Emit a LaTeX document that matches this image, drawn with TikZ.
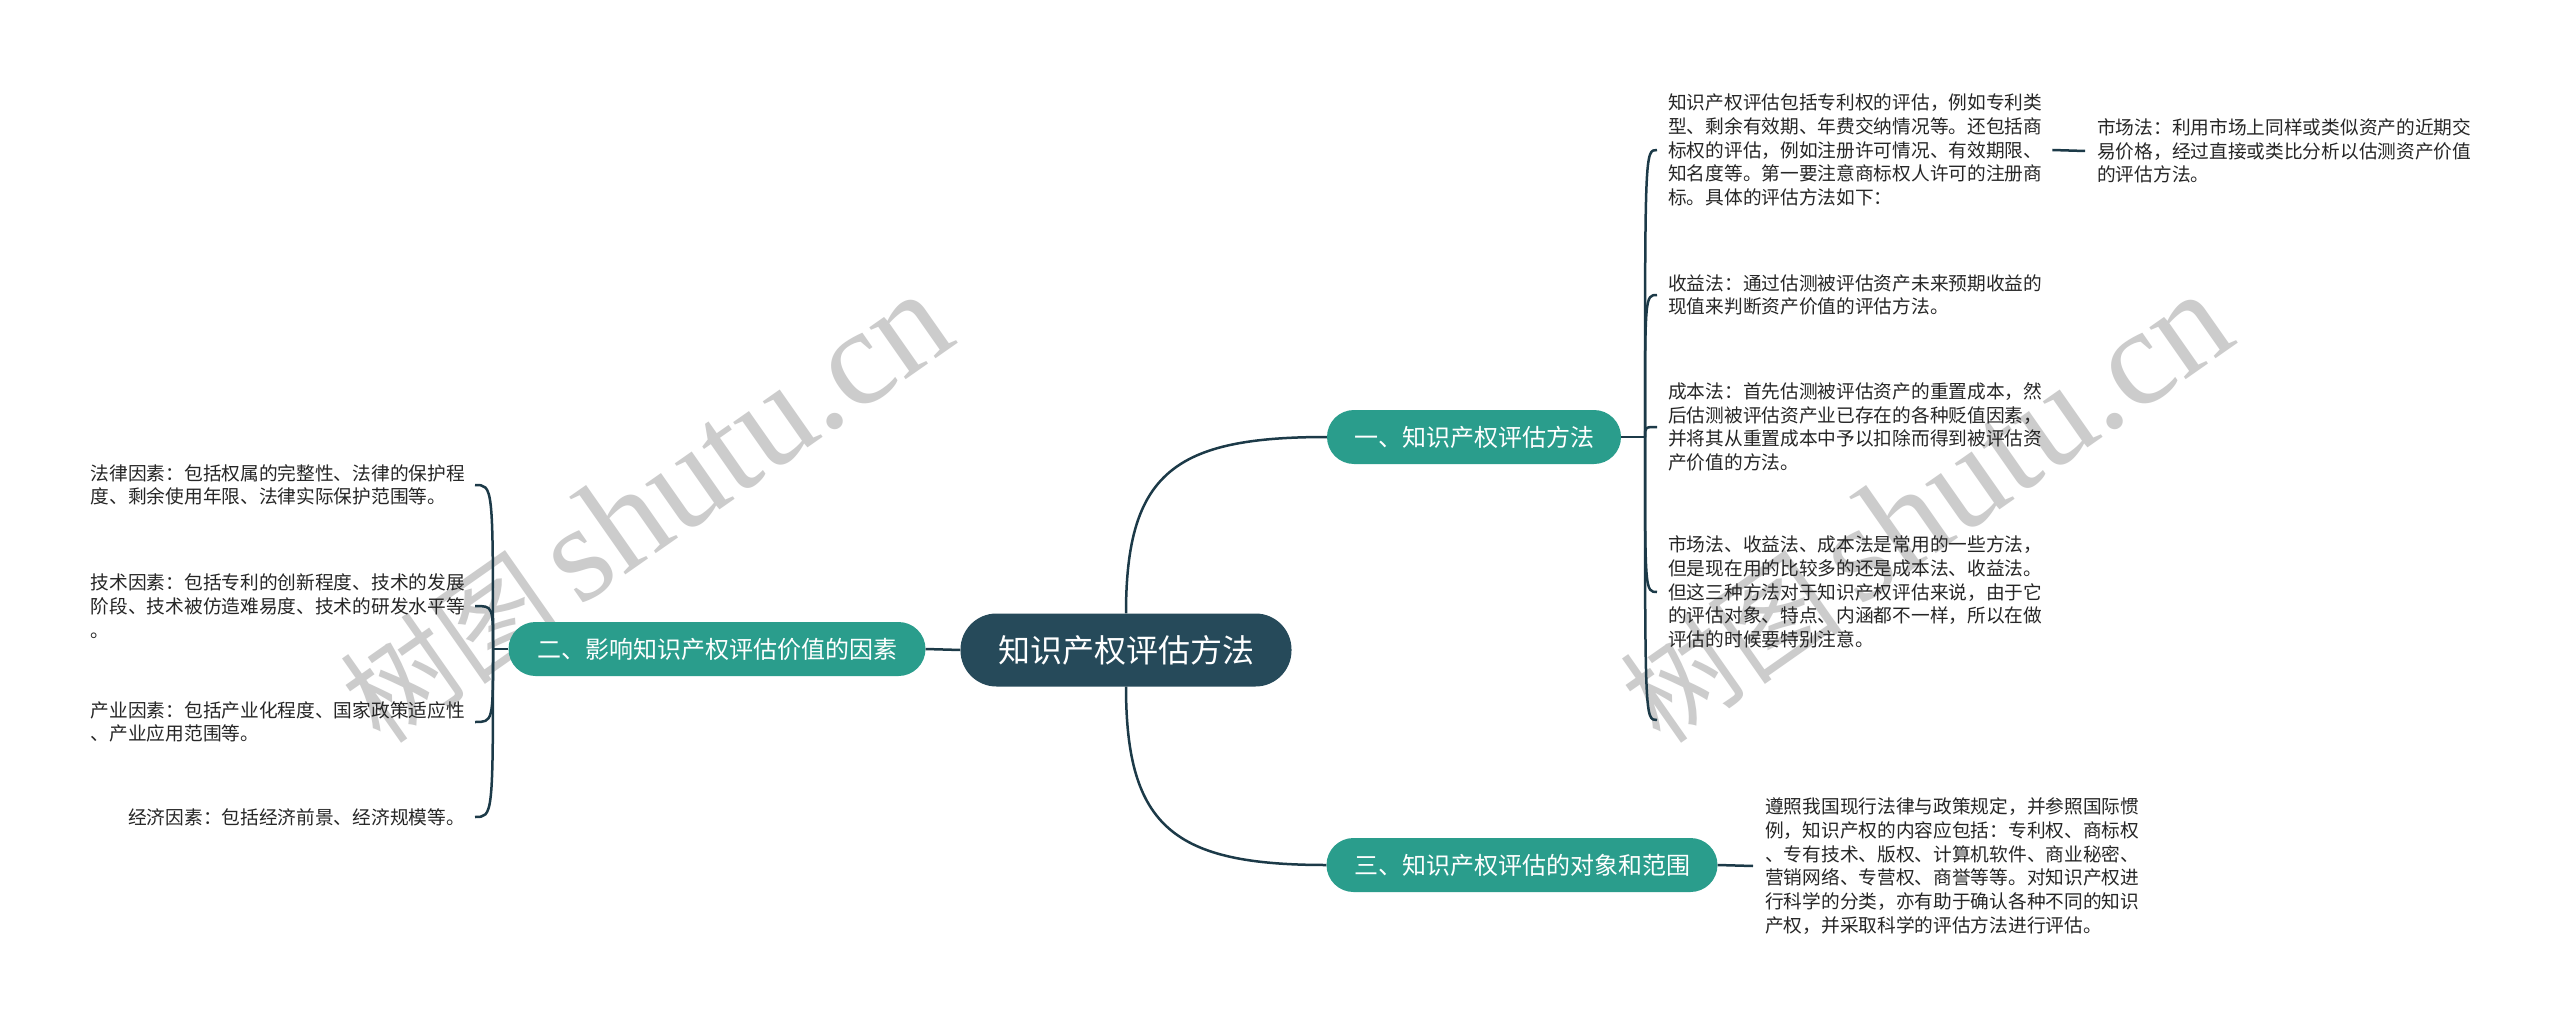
\documentclass[tikz,border=0pt]{standalone}
\usepackage{fontspec}
\setmainfont{Noto Sans CJK SC}
\newfontfamily\wmlatin{Liberation Serif}
\usetikzlibrary{calc}
\definecolor{topicfill}{HTML}{2A9D8C}
\definecolor{rootfill}{HTML}{264A5A}
\definecolor{linec}{HTML}{1C3A48}
\definecolor{wmgray}{HTML}{CCCCCC}
\tikzset{
  leaf/.style={inner sep=0pt, align=left, text=black!85, font=\fontsize{18.7}{23.7}\selectfont},
  topic/.style={fill=topicfill, text=white, rounded corners=27pt, minimum height=54pt, inner sep=0pt, font=\fontsize{24}{28}\selectfont},
  rootnode/.style={fill=rootfill, text=white, rounded corners=36pt, minimum height=73pt, minimum width=331pt, inner sep=0pt, font=\fontsize{32}{38}\selectfont},
  conn/.style={draw=linec, line width=2.5pt},
  wmark/.style={text=wmgray, inner sep=0pt, rotate=35, anchor=base west}
}
\begin{document}
\begin{tikzpicture}[x=1pt,y=-1pt]
\fill[white] (0,0) rectangle (2560,1027);
\useasboundingbox (0,0) rectangle (2560,1027);
% watermarks
\node[wmark] (wm1) at (381,747) {\fontsize{112}{120}\selectfont 树图\,{\wmlatin\fontsize{138}{140}\selectfont shutu.cn}};
\node[wmark] (wm2) at (1661,747) {\fontsize{112}{120}\selectfont 树图\,{\wmlatin\fontsize{138}{140}\selectfont shutu.cn}};
% main nodes
\node[rootnode] (root) at (1126,650) {知识产权评估方法};
\node[topic, minimum width=294pt] (t1) at (1474,437) {一、知识产权评估方法};
\node[topic, minimum width=417pt] (t2) at (717,649) {二、影响知识产权评估价值的因素};
\node[topic, minimum width=391pt] (t3) at (1522,865) {三、知识产权评估的对象和范围};
% right leaves
\node[leaf, anchor=west] (a1) at (1668,150) {知识产权评估包括专利权的评估，例如专利类\\型、剩余有效期、年费交纳情况等。还包括商\\标权的评估，例如注册许可情况、有效期限、\\知名度等。第一要注意商标权人许可的注册商\\标。具体的评估方法如下：};
\node[leaf, anchor=west] (a11) at (2097,151) {市场法：利用市场上同样或类似资产的近期交\\易价格，经过直接或类比分析以估测资产价值\\的评估方法。};
\node[leaf, anchor=west] (a2) at (1668,295) {收益法：通过估测被评估资产未来预期收益的\\现值来判断资产价值的评估方法。};
\node[leaf, anchor=west] (a3) at (1668,427) {成本法：首先估测被评估资产的重置成本，然\\后估测被评估资产业已存在的各种贬值因素，\\并将其从重置成本中予以扣除而得到被评估资\\产价值的方法。};
\node[leaf, anchor=west] (a4) at (1668,592) {市场法、收益法、成本法是常用的一些方法，\\但是现在用的比较多的还是成本法、收益法。\\但这三种方法对于知识产权评估来说，由于它\\的评估对象、特点、内涵都不一样，所以在做\\评估的时候要特别注意。};
\node[leaf, anchor=west] (c1) at (1765,866) {遵照我国现行法律与政策规定，并参照国际惯\\例，知识产权的内容应包括：专利权、商标权\\、专有技术、版权、计算机软件、商业秘密、\\营销网络、专营权、商誉等等。对知识产权进\\行科学的分类，亦有助于确认各种不同的知识\\产权，并采取科学的评估方法进行评估。};
% left leaves
\node[leaf, anchor=east] (b1) at (465,485) {法律因素：包括权属的完整性、法律的保护程\\度、剩余使用年限、法律实际保护范围等。};
\node[leaf, anchor=east] (b2) at (465,606) {技术因素：包括专利的创新程度、技术的发展\\阶段、技术被仿造难易度、技术的研发水平等\\。};
\node[leaf, anchor=east] (b3) at (465,722) {产业因素：包括产业化程度、国家政策适应性\\、产业应用范围等。};
\node[leaf, anchor=east] (b4) at (465,817) {经济因素：包括经济前景、经济规模等。};
% junctions and free ends
\coordinate (j1) at (1645,437);
\coordinate (j2) at (493,649);
\coordinate (e1) at ([xshift=-11pt]a1.west);
\coordinate (e2) at ([xshift=-11pt]a2.west);
\coordinate (e3) at ([xshift=-11pt]a3.west);
\coordinate (e4) at ([xshift=-11pt]a4.west);
\coordinate (e5) at (1657,720);
\coordinate (f1) at ([xshift=10pt]b1.east);
\coordinate (f2) at ([xshift=10pt]b2.east);
\coordinate (f3) at ([xshift=10pt]b3.east);
\coordinate (f4) at ([xshift=10pt]b4.east);
% connectors
\draw[conn] (root.west) -- (t2.east);
\draw[conn] (root.north) .. controls ([yshift=141pt]root.north) and ([xshift=-152pt]t1.west) .. (t1.west);
\draw[conn] (root.south) .. controls ([yshift=-141pt]root.south) and ([xshift=-152pt]t3.west) .. (t3.west);
\draw[conn] (t1.east) -- (j1);
\foreach \e in {e1,e2,e3,e4,e5}{
  \draw[conn] (j1) .. controls (j1 |- \e) and (j1 |- \e) .. (\e);
}
\draw[conn] (t2.west) -- (j2);
\foreach \f in {f1,f2,f3,f4}{
  \draw[conn] (j2) .. controls (j2 |- \f) and (j2 |- \f) .. (\f);
}
\draw[conn] ([xshift=10pt]a1.east) -- ([xshift=-12pt]a11.west);
\draw[conn] (t3.east) -- ([xshift=-12pt]c1.west);
\end{tikzpicture}
\end{document}
